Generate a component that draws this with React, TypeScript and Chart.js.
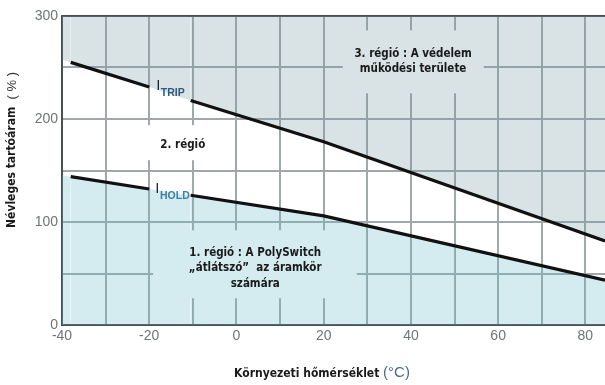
import { useEffect, useRef } from 'react';
import { Chart, registerables } from 'chart.js';

Chart.register(...registerables);

// Data
const tripTemps = [-40, -38, -20, -10.5, 20, 84.5];
const tripValues = [257.7, 255, 231, 218, 178, 81.5];
const holdTemps = [-40, -38, -20, -10.5, 20, 84.5];
const holdValues = [145.3, 144, 132, 126, 106, 43.5];
const xTickLabels = [-40, -20, 0, 20, 40, 60, 80];
const yTickLabels = [0, 100, 200, 300];

const regionLabels = [
  { lines: ['3. régió : A védelem', 'működési területe'], x: 40.5, ys: [263, 248.5], box: [24.4, 56.7, 225, 286], bg: 'rgb(217,226,228)' },
  { lines: ['2. régió'], x: -12.3, ys: [175], box: [-22.1, -1.5, 160, 194], bg: '#ffffff' },
  { lines: ['1. régió : A PolySwitch', '„átlátszó”  az áramkör', 'számára'], x: 4.3, ys: [70, 55.3, 39.8], box: [-19.1, 27.6, 26, 92], bg: 'rgb(212,235,240)' },
];
const curveLabels = [
  { main: 'I', sub: 'TRIP', x: -18.4, y: 232, color: '#2d5d7c' },
  { main: 'I', sub: 'HOLD', x: -18.6, y: 132, color: '#3b7fa3' },
];

const COND = '"DejaVu Sans Condensed", "Liberation Sans Narrow", "DejaVu Sans", sans-serif';
const SANS = '"Liberation Sans", Arial, sans-serif';

const labelPlugin = {
  id: 'labels',
  afterDatasetsDraw(chart: any) {
    const { ctx, scales } = chart;
    const xs = scales.x, ys = scales.y;
    ctx.save();
    for (const l of regionLabels) {
      const x0 = xs.getPixelForValue(l.box[0]);
      const x1 = xs.getPixelForValue(l.box[1]);
      const y0 = ys.getPixelForValue(l.box[3]);
      const y1 = ys.getPixelForValue(l.box[2]);
      ctx.fillStyle = l.bg;
      ctx.fillRect(x0, y0, x1 - x0, y1 - y0);
      ctx.fillStyle = '#1a1a1a';
      ctx.font = 'bold 11.5px ' + COND;
      ctx.textAlign = 'center';
      ctx.textBaseline = 'middle';
      l.lines.forEach((t, i) => ctx.fillText(t, xs.getPixelForValue(l.x), ys.getPixelForValue(l.ys[i])));
    }
    for (const c of curveLabels) {
      const px = xs.getPixelForValue(c.x);
      const py = ys.getPixelForValue(c.y);
      ctx.textAlign = 'left';
      ctx.textBaseline = 'middle';
      ctx.font = '15px ' + SANS;
      ctx.fillStyle = '#1a2a3a';
      ctx.fillText(c.main, px, py);
      const w = ctx.measureText(c.main).width;
      ctx.font = 'bold 10.5px ' + SANS;
      ctx.fillStyle = c.color;
      ctx.fillText(c.sub, px + w + 0.5, py + 7);
    }
    ctx.restore();
  },
  afterDraw(chart: any) {
    const { ctx } = chart;
    ctx.save();
    // x-axis title
    ctx.textBaseline = 'middle';
    ctx.textAlign = 'left';
    const t1 = 'Környezeti hőmérséklet ';
    const t2 = '(°C)';
    ctx.font = 'bold 12px ' + COND;
    const w1 = ctx.measureText(t1).width;
    ctx.font = '15px ' + SANS;
    const w2 = ctx.measureText(t2).width;
    const cx = 322;
    let sx = cx - (w1 + w2) / 2;
    ctx.font = 'bold 12px ' + COND;
    ctx.fillStyle = '#1a1a1a';
    ctx.fillText(t1, sx, 374);
    ctx.font = '15px ' + SANS;
    ctx.fillStyle = '#4b6b8a';
    ctx.fillText(t2, sx + w1, 373);
    // y-axis title
    ctx.translate(12, 150);
    ctx.rotate(-Math.PI / 2);
    const y1 = 'Névleges tartóáram ';
    const y2 = ' ( % )';
    ctx.font = 'bold 12px ' + COND;
    const v1 = ctx.measureText(y1).width;
    ctx.font = '13px ' + SANS;
    const v2 = ctx.measureText(y2).width;
    sx = -(v1 + v2) / 2;
    ctx.font = 'bold 12px ' + COND;
    ctx.fillStyle = '#1a1a1a';
    ctx.fillText(y1, sx, 0);
    ctx.font = '13px ' + SANS;
    ctx.fillStyle = '#333';
    ctx.fillText(y2, sx + v1, 0);
    ctx.restore();
  },
};

export default function App() {
  const ref = useRef<HTMLCanvasElement>(null);
  useEffect(() => {
    if (!ref.current) return;
    const gap = (ctx: any) => (ctx.p0DataIndex === 0 || ctx.p0DataIndex === 2 ? 'rgba(0,0,0,0)' : '#111');
    const chart = new Chart(ref.current, {
      type: 'line',
      data: {
        datasets: [
          {
            label: 'I TRIP',
            data: tripTemps.map((t, i) => ({ x: t, y: tripValues[i] })),
            borderColor: '#111',
            borderWidth: 3.2,
            backgroundColor: 'rgba(120,150,160,0.28)',
            fill: 'end',
            pointRadius: 0,
            tension: 0,
            segment: { borderColor: gap },
          },
          {
            label: 'I HOLD',
            data: holdTemps.map((t, i) => ({ x: t, y: holdValues[i] })),
            borderColor: '#111',
            borderWidth: 3.2,
            backgroundColor: 'rgba(100,185,200,0.28)',
            fill: 'origin',
            pointRadius: 0,
            tension: 0,
            segment: { borderColor: gap },
          },
        ],
      },
      options: {
        animation: false,
        responsive: false,
        layout: { padding: { top: 16, left: 0, right: 0, bottom: 0 } },
        plugins: { legend: { display: false }, tooltip: { enabled: false } },
        scales: {
          x: {
            type: 'linear',
            min: -40,
            max: 84.5,
            afterFit: (s: any) => { s.height = 60; },
            ticks: {
              stepSize: 10,
              includeBounds: false,
              autoSkip: false,
              maxRotation: 0,
              padding: 3,
              color: '#6f7475',
              font: { family: SANS, size: 14 },
              callback: (v: any) => (xTickLabels.includes(Number(v)) ? String(v) : ''),
            },
            grid: {
              drawTicks: false,
              color: '#a0a8a9',
              lineWidth: (c: any) => (c.tick && c.tick.value === -40 ? 0 : 2),
            },
            border: { color: '#4a4f50', width: 2 },
          },
          y: {
            min: 0,
            max: 300,
            afterFit: (s: any) => { s.width = 62; },
            ticks: {
              stepSize: 50,
              autoSkip: false,
              padding: 4,
              color: '#6f7475',
              font: { family: SANS, size: 14 },
              callback: (v: any) => (yTickLabels.includes(Number(v)) ? String(v) : ''),
            },
            grid: {
              drawTicks: false,
              color: (c: any) => (c.tick && c.tick.value === 300 ? '#4a4f50' : '#a0a8a9'),
              lineWidth: (c: any) => (c.tick && c.tick.value === 0 ? 0 : 2),
            },
            border: { color: '#4a4f50', width: 2 },
          },
        },
      },
      plugins: [labelPlugin],
    } as any);
    return () => chart.destroy();
  }, []);
  return (
    <canvas
      ref={ref}
      width={605}
      height={385}
      style={{ position: 'absolute', left: 0, top: 0, display: 'block' }}
    />
  );
}
